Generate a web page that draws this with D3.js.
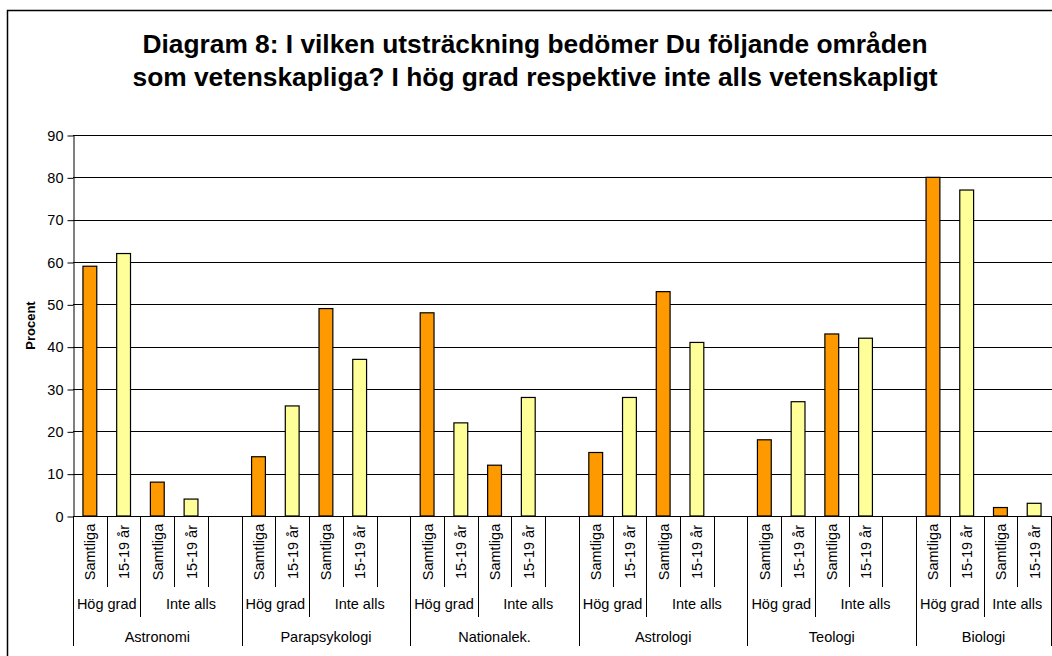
<!DOCTYPE html>
<html>
<head>
<meta charset="utf-8">
<script src="https://cdn.jsdelivr.net/npm/d3@7"></script>
<style>
  body { margin: 0; background: #fff; }
  svg { display: block; font-family: "Liberation Sans", Arial, sans-serif; }
</style>
</head>
<body>
<svg id="chart" width="1052" height="656"></svg>
<script>
// Diagram 8 - vetenskapliga områden

const groups = ["Astronomi", "Parapsykologi", "Nationalek.", "Astrologi", "Teologi", "Biologi"];
const levels = ["Hög grad", "Inte alls"];
const seriesNames = ["Samtliga", "15-19 år"];

// values per group
const hogSamtliga = [59, 14, 48, 15, 18, 80];
const hog1519 = [62, 26, 22, 28, 27, 77];
const inteSamtliga = [8, 49, 12, 53, 43, 2];
const inte1519 = [4, 37, 28, 41, 42, 3];

const yTicks = [0, 10, 20, 30, 40, 50, 60, 70, 80, 90];
const colors = { "Samtliga": "#FF9900", "15-19 år": "#FFFF99" };

const svg = d3.select("#chart");

// build slots: 4 bars per group + one blank slot (not after the last group)
const slots = [];
groups.forEach((g, gi) => {
  const vals = [[hogSamtliga[gi], hog1519[gi]], [inteSamtliga[gi], inte1519[gi]]];
  levels.forEach((lv, li) => {
    seriesNames.forEach((s, si) => {
      slots.push({ id: slots.length, group: g, level: lv, series: s, value: vals[li][si] });
    });
  });
  if (gi < groups.length - 1) slots.push({ id: slots.length, group: g, level: "Inte alls", series: null, value: null });
});

const x = d3.scaleBand()
  .domain(slots.map(d => d.id))
  .range([73, 1051])
  .padding(0);

const y = d3.scaleLinear()
  .domain([0, 90])
  .range([516, 135]);

// outer chart border
svg.append("rect")
  .attr("x", 7.5).attr("y", 10.5)
  .attr("width", 1100).attr("height", 700)
  .attr("fill", "none")
  .attr("stroke", "#000")
  .attr("stroke-width", 1.5);

// title
const title = svg.append("text")
  .attr("text-anchor", "middle")
  .attr("font-size", 25)
  .attr("font-weight", "bold");
title.append("tspan").attr("x", 535).attr("y", 53)
  .attr("textLength", 785).attr("lengthAdjust", "spacingAndGlyphs")
  .text("Diagram 8: I vilken utsträckning bedömer Du följande områden");
title.append("tspan").attr("x", 535).attr("y", 86)
  .attr("textLength", 805).attr("lengthAdjust", "spacingAndGlyphs")
  .text("som vetenskapliga? I hög grad respektive inte alls vetenskapligt");

// gridlines
svg.append("g")
  .selectAll("line")
  .data(yTicks.filter(t => t > 0))
  .enter()
  .append("line")
  .attr("x1", 73).attr("x2", 1052)
  .attr("y1", d => Math.round(y(d)) + 0.5)
  .attr("y2", d => Math.round(y(d)) + 0.5)
  .attr("stroke", "#000")
  .attr("stroke-width", 1);

// y axis
const yAxis = d3.axisLeft(y).tickValues(yTicks).tickSize(6).tickSizeOuter(0).tickPadding(4);
const gy = svg.append("g")
  .attr("transform", "translate(73.5,0.5)")
  .call(yAxis);
gy.selectAll("text").attr("font-size", 14.5).attr("fill", "#000").attr("font-family", "Liberation Sans, Arial, sans-serif");
gy.selectAll("line, path").attr("stroke", "#000");

// y label
svg.append("text")
  .attr("transform", `translate(35, ${(y(0) + y(90)) / 2}) rotate(-90)`)
  .attr("text-anchor", "middle")
  .attr("font-size", 13)
  .attr("font-weight", "bold")
  .text("Procent");

// bars
const bw = x.bandwidth() * 0.41;
svg.append("g")
  .selectAll("rect")
  .data(slots.filter(d => d.series))
  .enter()
  .append("rect")
  .attr("x", d => x(d.id) + (x.bandwidth() - bw) / 2)
  .attr("y", d => y(d.value))
  .attr("width", bw)
  .attr("height", d => y(0) - y(d.value))
  .attr("fill", d => colors[d.series])
  .attr("stroke", "#000")
  .attr("stroke-width", 1.2);

// category axis line
svg.append("line")
  .attr("x1", 73).attr("x2", 1052)
  .attr("y1", y(0) + 0.5).attr("y2", y(0) + 0.5)
  .attr("stroke", "#000");

const cat = svg.append("g");
const y0 = y(0);

// slot separators (level 1)
const bounds = slots.map(d => x(d.id)).concat([x(slots[slots.length - 1].id) + x.bandwidth()]);
cat.selectAll("line.l1")
  .data(bounds)
  .enter()
  .append("line")
  .attr("class", "l1")
  .attr("x1", d => Math.round(d) + 0.5).attr("x2", d => Math.round(d) + 0.5)
  .attr("y1", y0).attr("y2", 587)
  .attr("stroke", "#000");

// series labels rotated
cat.selectAll("text.s")
  .data(slots.filter(d => d.series))
  .enter()
  .append("text")
  .attr("class", "s")
  .attr("transform", d => `translate(${x(d.id) + x.bandwidth() / 2 + 5.5}, 552) rotate(-90)`)
  .attr("text-anchor", "middle")
  .attr("font-size", 14.5)
  .text(d => d.series);

// level 2 spans
const levelSpans = [];
d3.groups(slots, d => d.group, d => d.level).forEach(([g, lvs]) => {
  lvs.forEach(([lv, items]) => {
    const x0 = x(items[0].id);
    const x1 = x(items[items.length - 1].id) + x.bandwidth();
    levelSpans.push({ group: g, level: lv, x0, x1 });
  });
});

cat.selectAll("line.l2")
  .data(levelSpans.filter(d => d.level === "Inte alls"))
  .enter()
  .append("line")
  .attr("x1", d => Math.round(d.x0) + 0.5).attr("x2", d => Math.round(d.x0) + 0.5)
  .attr("y1", y0).attr("y2", 617)
  .attr("stroke", "#000");

cat.selectAll("text.l2")
  .data(levelSpans)
  .enter()
  .append("text")
  .attr("x", d => (d.x0 + d.x1) / 2)
  .attr("y", 609)
  .attr("text-anchor", "middle")
  .attr("font-size", 14.5)
  .text(d => d.level);

// group spans
const groupSpans = d3.groups(slots, d => d.group).map(([g, items]) => ({
  group: g,
  x0: x(items[0].id),
  x1: x(items[items.length - 1].id) + x.bandwidth()
}));

cat.selectAll("line.l3")
  .data(groupSpans.flatMap(d => [d.x0, d.x1]))
  .enter()
  .append("line")
  .attr("x1", d => Math.round(d) + 0.5).attr("x2", d => Math.round(d) + 0.5)
  .attr("y1", y0).attr("y2", 646)
  .attr("stroke", "#000");

cat.selectAll("text.l3")
  .data(groupSpans)
  .enter()
  .append("text")
  .attr("x", d => (d.x0 + d.x1) / 2)
  .attr("y", 642)
  .attr("text-anchor", "middle")
  .attr("font-size", 14.5)
  .text(d => d.group);
</script>
</body>
</html>
